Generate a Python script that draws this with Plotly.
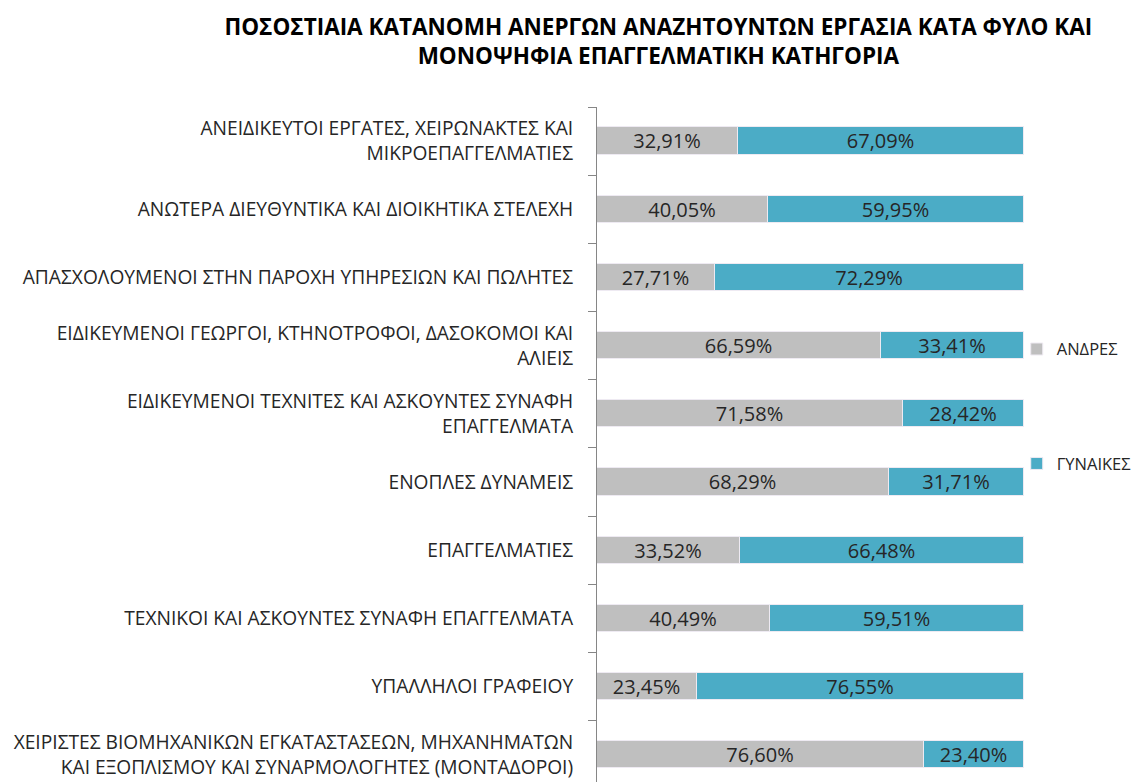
import plotly.graph_objects as go

# categories (top to bottom)
categories = [
    "ΑΝΕΙΔΙΚΕΥΤΟΙ ΕΡΓΑΤΕΣ, ΧΕΙΡΩΝΑΚΤΕΣ ΚΑΙ<br>ΜΙΚΡΟΕΠΑΓΓΕΛΜΑΤΙΕΣ",
    "ΑΝΩΤΕΡΑ ΔΙΕΥΘΥΝΤΙΚΑ ΚΑΙ ΔΙΟΙΚΗΤΙΚΑ ΣΤΕΛΕΧΗ",
    "ΑΠΑΣΧΟΛΟΥΜΕΝΟΙ ΣΤΗΝ ΠΑΡΟΧΗ ΥΠΗΡΕΣΙΩΝ ΚΑΙ ΠΩΛΗΤΕΣ",
    "ΕΙΔΙΚΕΥΜΕΝΟΙ ΓΕΩΡΓΟΙ, ΚΤΗΝΟΤΡΟΦΟΙ, ΔΑΣΟΚΟΜΟΙ ΚΑΙ<br>ΑΛΙΕΙΣ",
    "ΕΙΔΙΚΕΥΜΕΝΟΙ ΤΕΧΝΙΤΕΣ ΚΑΙ ΑΣΚΟΥΝΤΕΣ ΣΥΝΑΦΗ<br>ΕΠΑΓΓΕΛΜΑΤΑ",
    "ΕΝΟΠΛΕΣ ΔΥΝΑΜΕΙΣ",
    "ΕΠΑΓΓΕΛΜΑΤΙΕΣ",
    "ΤΕΧΝΙΚΟΙ ΚΑΙ ΑΣΚΟΥΝΤΕΣ ΣΥΝΑΦΗ ΕΠΑΓΓΕΛΜΑΤΑ",
    "ΥΠΑΛΛΗΛΟΙ ΓΡΑΦΕΙΟΥ",
    "ΧΕΙΡΙΣΤΕΣ ΒΙΟΜΗΧΑΝΙΚΩΝ ΕΓΚΑΤΑΣΤΑΣΕΩΝ, ΜΗΧΑΝΗΜΑΤΩΝ<br>ΚΑΙ ΕΞΟΠΛΙΣΜΟΥ ΚΑΙ ΣΥΝΑΡΜΟΛΟΓΗΤΕΣ (ΜΟΝΤΑΔΟΡΟΙ)",
]
men = [32.91, 40.05, 27.71, 66.59, 71.58, 68.29, 33.52, 40.49, 23.45, 76.60]
women = [67.09, 59.95, 72.29, 33.41, 28.42, 31.71, 66.48, 59.51, 76.55, 23.40]

FONT = "Open Sans"

fig = go.Figure()
fig.add_trace(go.Bar(
    y=categories, x=men, name="ΑΝΔΡΕΣ", orientation="h",
    marker=dict(color="#BFBFBF", line=dict(color="#EEEAF2", width=1)),
    texttemplate="%{x:.2f}%", textposition="inside", insidetextanchor="middle",
    textfont=dict(color="#262626", size=20, family=FONT), constraintext="none",
    width=0.4, legendgroup="m",
))
fig.add_trace(go.Bar(
    y=categories, x=women, name="ΓΥΝΑΙΚΕΣ", orientation="h",
    marker=dict(color="#4BACC6", line=dict(color="#EEEAF2", width=1)),
    texttemplate="%{x:.2f}%", textposition="inside", insidetextanchor="middle",
    textfont=dict(color="#262626", size=20, family=FONT), constraintext="none",
    width=0.4, legendgroup="w",
))

# the page body has an 8px margin, so the figure is a little smaller than the window
fig.update_layout(
    barmode="stack",
    separators=",.",
    width=1133, height=774,
    margin=dict(l=589, r=117, t=99, b=0, autoexpand=False),
    paper_bgcolor="white", plot_bgcolor="white",
    font=dict(family=FONT, color="#262626"),
    title=dict(
        text="<b>ΠΟΣΟΣΤΙΑΙΑ ΚΑΤΑΝΟΜΗ ΑΝΕΡΓΩΝ ΑΝΑΖΗΤΟΥΝΤΩΝ ΕΡΓΑΣΙΑ ΚΑΤΑ ΦΥΛΟ ΚΑΙ<br>ΜΟΝΟΨΗΦΙΑ ΕΠΑΓΓΕΛΜΑΤΙΚΗ ΚΑΤΗΓΟΡΙΑ</b>",
        x=0.574, xanchor="center", y=0.965, yanchor="top",
        font=dict(size=22.5, color="black", family=FONT),
    ),
    xaxis=dict(range=[0, 100], visible=False),
    yaxis=dict(
        type="category", range=[9.4, -0.5],
        showline=True, linecolor="#868686", linewidth=1,
        ticks="outside", ticklen=8, tickcolor="#868686", tickson="boundaries",
        tickfont=dict(size=19.2, color="#262626", family=FONT),
        ticklabelstandoff=19, showgrid=False,
    ),
    legend=dict(
        x=0.983, xanchor="left", y=0.667, yanchor="top",
        traceorder="grouped", tracegroupgap=90,
        bgcolor="rgba(0,0,0,0)",
        font=dict(size=16.5, color="#262626", family=FONT),
        itemwidth=30,
    ),
    bargap=0,
)

fig.write_html("out.html")
